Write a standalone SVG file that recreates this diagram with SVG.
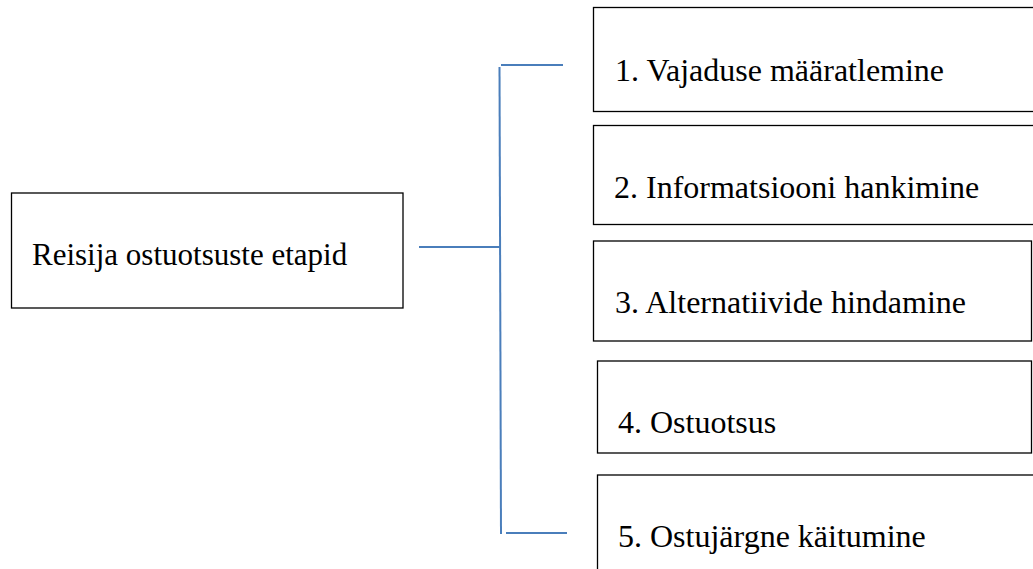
<svg xmlns="http://www.w3.org/2000/svg" width="1033" height="569" viewBox="0 0 1033 569">
<style>
.box{fill:#ffffff;stroke:#000000;stroke-width:1.3}
.lbl{font-family:"Liberation Serif","Times New Roman",serif;font-size:32px;fill:#000000}
.root{font-size:31px}
.conn{stroke:#4A7EBB;stroke-width:2;fill:none}
</style>
<rect width="1033" height="569" fill="#ffffff"/>
<g id="connectors">
<line class="conn" x1="499.5" y1="67" x2="501" y2="534"/>
<line class="conn" x1="501" y1="65" x2="563" y2="65"/>
<line class="conn" x1="419" y1="247" x2="501" y2="247"/>
<line class="conn" x1="506" y1="533" x2="567" y2="533"/>
</g>
<g id="root">
<rect class="box" x="11.5" y="193" width="391.5" height="115"/>
<text class="lbl root" x="32" y="265">Reisija ostuotsuste etapid</text>
</g>
<g id="step1">
<rect class="box" x="593.5" y="7.5" width="460" height="104"/>
<text class="lbl" x="615" y="81">1. Vajaduse määratlemine</text>
</g>
<g id="step2">
<rect class="box" x="593.5" y="125.5" width="460" height="99"/>
<text class="lbl" x="614" y="198">2. Informatsiooni hankimine</text>
</g>
<g id="step3">
<rect class="box" x="593.5" y="241" width="438" height="100"/>
<text class="lbl" x="615" y="313">3. Alternatiivide hindamine</text>
</g>
<g id="step4">
<rect class="box" x="597.5" y="361" width="434" height="92"/>
<text class="lbl" x="618" y="433">4. Ostuotsus</text>
</g>
<g id="step5">
<rect class="box" x="597.5" y="475" width="460" height="120"/>
<text class="lbl" x="618" y="547">5. Ostujärgne käitumine</text>
</g>
</svg>
